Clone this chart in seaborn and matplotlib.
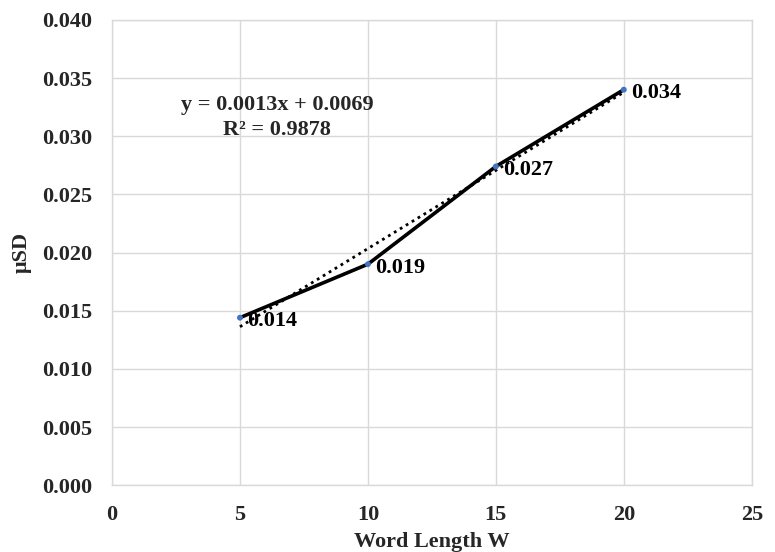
import numpy as np
import pandas as pd
import matplotlib
matplotlib.use("Agg")
import matplotlib.pyplot as plt
import seaborn as sns

word_length = [5, 10, 15, 20]
musd = [0.0144, 0.0190, 0.0274, 0.0340]
point_labels = ["0.014", "0.019", "0.027", "0.034"]
equation_text = "y = 0.0013x + 0.0069"
r2_text = "R² = 0.9878"
x_ticks = [0, 5, 10, 15, 20, 25]
y_ticks = [0.000, 0.005, 0.010, 0.015, 0.020, 0.025, 0.030, 0.035, 0.040]

sns.set_theme(style="whitegrid")
plt.rcParams['font.family'] = ['Liberation Serif', 'DejaVu Serif']
plt.rcParams['font.weight'] = 'bold'

FS = 16

df = pd.DataFrame({"W": word_length, "uSD": musd})

fig = plt.figure(figsize=(7.75, 5.52), dpi=100)
ax = fig.add_axes([0.1445, 0.121, 0.8255, 0.843])

sns.lineplot(data=df, x="W", y="uSD", ax=ax, color="black", linewidth=2.6, zorder=3)
sns.scatterplot(data=df, x="W", y="uSD", ax=ax, color="#4472C4", s=18, edgecolor="none", zorder=4)

# linear trendline from the data
coef = np.polyfit(word_length, musd, 1)
xt = np.array([word_length[0], word_length[-1]])
ax.plot(xt, np.polyval(coef, xt), linestyle=(0, (1, 1.5)), color="black", linewidth=2.0, zorder=2)

for x, y, lab in zip(word_length, musd, point_labels):
    ax.annotate(lab, (x, y), xytext=(5.5, -2.5), textcoords="offset points",
                ha="left", va="center", fontsize=FS, fontweight="bold", color="black", zorder=5)

ax.text(6.45, 0.03269, equation_text, ha="center", va="center", fontsize=FS, fontweight="bold")
ax.text(6.45, 0.03054, r2_text, ha="center", va="center", fontsize=FS, fontweight="bold")

ax.set_xlim(0, 25)
ax.set_ylim(0, 0.040)
ax.set_xticks(x_ticks)
ax.set_yticks(y_ticks)
ax.set_xticklabels([str(t) for t in x_ticks], fontsize=FS, fontweight="bold")
ax.set_yticklabels([f"{t:.3f}" for t in y_ticks], fontsize=FS, fontweight="bold")
ax.tick_params(axis="x", pad=14, length=0)
ax.tick_params(axis="y", pad=14, length=0)
ax.set_xlabel("Word Length W", fontsize=FS, fontweight="bold", labelpad=5)
ax.set_ylabel("μSD", fontsize=FS, fontweight="bold", labelpad=8)

ax.grid(True, color="#d9d9d9", linewidth=1.0)
for s in ax.spines.values():
    s.set_visible(True)
    s.set_color("#d9d9d9")
    s.set_linewidth(1.0)
ax.set_facecolor("white")
fig.patch.set_facecolor("white")

fig.savefig("out.png", dpi=100)
